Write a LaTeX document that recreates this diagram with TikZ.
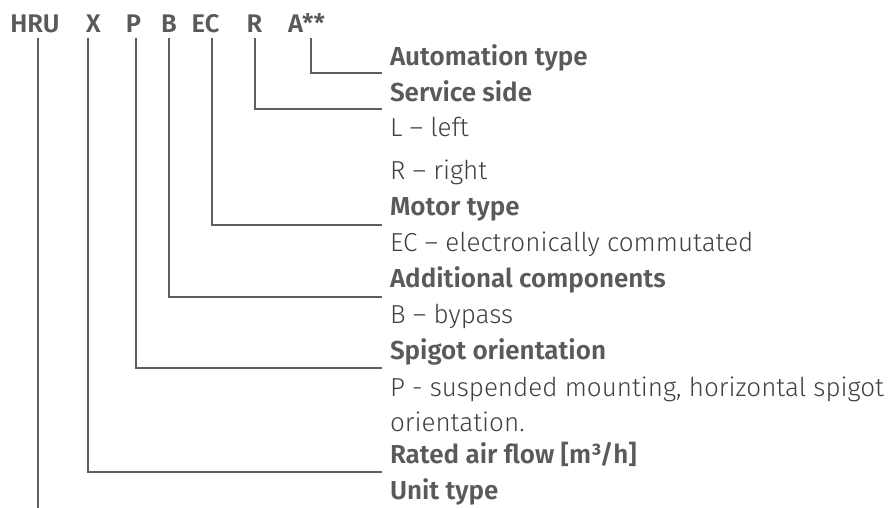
\documentclass[tikz,border=0pt]{standalone}
\usepackage{fontspec}
\setmainfont{Fira Sans}[UprightFont=* Light, BoldFont=* SemiBold]
\definecolor{txt}{HTML}{5A5A5A}
\definecolor{opt}{HTML}{404040}
\definecolor{ln}{HTML}{5E5E5E}
\begin{document}
\begin{tikzpicture}[x=1pt,y=-1pt,
  every node/.style={inner sep=0pt, outer sep=0pt, text=txt},
  codepart/.style={anchor=base, font=\fontsize{25.5}{30}\selectfont\bfseries},
  heading/.style={anchor=base west, font=\fontsize{26}{30}\selectfont\bfseries},
  option/.style={anchor=base west, text=opt, font=\fontsize{26}{30}\selectfont},
  lead/.style={draw=ln, line width=1.2pt}]
\useasboundingbox (0,0) rectangle (888,508);

% type code
\node[codepart] (cHRU) at (35,33) {HRU};
\node[codepart] (cX)   at (93.5,33) {X};
\node[codepart] (cP)   at (133.5,33) {P};
\node[codepart] (cB)   at (169,33) {B};
\node[codepart] (cEC)  at (205.5,33) {EC};
\node[codepart] (cR)   at (254.5,33) {R};
\node[codepart, anchor=base west] (cA) at (288,33) {A**};

% headings and options
\node[heading] (hA)   at (390,66)  {Automation type};
\node[heading] (hR)   at (390,102) {Service side};
\node[option]  (oL)   at (390,136) {L – left};
\node[option]  (oR)   at (390,179) {R – right};
\node[heading] (hEC)  at (390,215) {Motor type};
\node[option]  (oEC)  at (390,251) {EC – electronically commutated};
\node[heading] (hB)   at (390,287) {Additional components};
\node[option]  (oB)   at (390,323) {B – bypass};
\node[heading] (hP)   at (390,359) {Spigot orientation};
\node[option]  (oP1)  at (390,396) {P - suspended mounting, horizontal spigot};
\node[option]  (oP2)  at (390,431) {orientation.};
\node[heading] (hX)   at (390,463) {Rated air flow [m³/h]};
\node[heading] (hHRU) at (390,499) {Unit type};

% leader line ends
\coordinate (tHRU) at (38,38);  \coordinate (eHRU) at (38,508);
\coordinate (tX)   at (88,38);  \coordinate (eX)   at (382,472);
\coordinate (tP)   at (136,38); \coordinate (eP)   at (382,368);
\coordinate (tB)   at (169,38); \coordinate (eB)   at (382,297);
\coordinate (tEC)  at (212,38); \coordinate (eEC)  at (382,225);
\coordinate (tR)   at (255,38); \coordinate (eR)   at (382,109);
\coordinate (tA)   at (311,38); \coordinate (eA)   at (382,73);

% leader lines
\draw[lead] (tHRU) -- (eHRU);
\draw[lead] (tX)  |- (eX);
\draw[lead] (tP)  |- (eP);
\draw[lead] (tB)  |- (eB);
\draw[lead] (tEC) |- (eEC);
\draw[lead] (tR)  |- (eR);
\draw[lead] (tA)  |- (eA);
\end{tikzpicture}
\end{document}
